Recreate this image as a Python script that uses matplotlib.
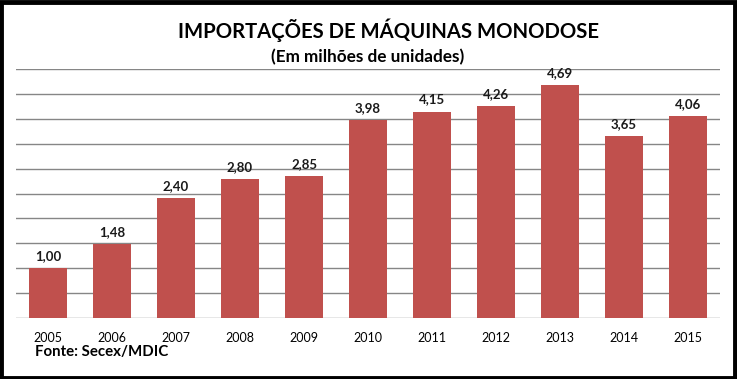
import matplotlib
matplotlib.use('Agg')
import matplotlib.pyplot as plt
from matplotlib.patches import Rectangle
import numpy as np

anos = ['2005', '2006', '2007', '2008', '2009', '2010', '2011', '2012', '2013', '2014', '2015']
valores = [1.00, 1.48, 2.40, 2.80, 2.85, 3.98, 4.15, 4.26, 4.69, 3.65, 4.06]

plt.rcParams['font.family'] = ['Lato', 'DejaVu Sans']

fig = plt.figure(figsize=(7.37, 3.79), dpi=100)
ax = fig.add_axes([16/737, 1 - 317.7/379, (720-16)/737, (317.7-69.3)/379])

x = np.arange(len(anos))
ax.bar(x, valores, width=0.58, color='#C0504D', zorder=3)
for xi, v in zip(x, valores):
    ax.text(xi, v + 0.12, f'{v:.2f}'.replace('.', ','), ha='center', va='bottom',
            fontsize=9.5, fontweight='bold', color='#1a1a1a')

ax.set_xlim(-0.5, len(anos) - 0.5)
ax.set_ylim(0, 5)
ax.set_yticks(np.arange(0, 5.01, 0.5))
ax.yaxis.grid(True, color='#868686', linewidth=1)
ax.set_yticklabels([])
ax.tick_params(axis='y', length=0)
ax.tick_params(axis='x', length=0, pad=10, labelsize=9)
ax.set_xticks(x)
ax.set_xticklabels(anos)
for s in ax.spines.values():
    s.set_visible(False)

fig.text(388/737, 1 - 30/379, 'IMPORTAÇÕES DE MÁQUINAS MONODOSE', ha='center', va='center',
         fontsize=14.6, fontweight='bold')
fig.text(368/737, 1 - 57/379, '(Em milhões de unidades)', ha='center', va='center',
         fontsize=12.3, fontweight='bold')
fig.text(35/737, 1 - 352/379, 'Fonte: Secex/MDIC', ha='left', va='center',
         fontsize=10.8, fontweight='bold')

fig.patches.append(Rectangle((0.002, 0.003), 0.995, 0.993, transform=fig.transFigure,
                             fill=False, edgecolor='black', linewidth=3.5))

fig.savefig('out.png', dpi=100)
